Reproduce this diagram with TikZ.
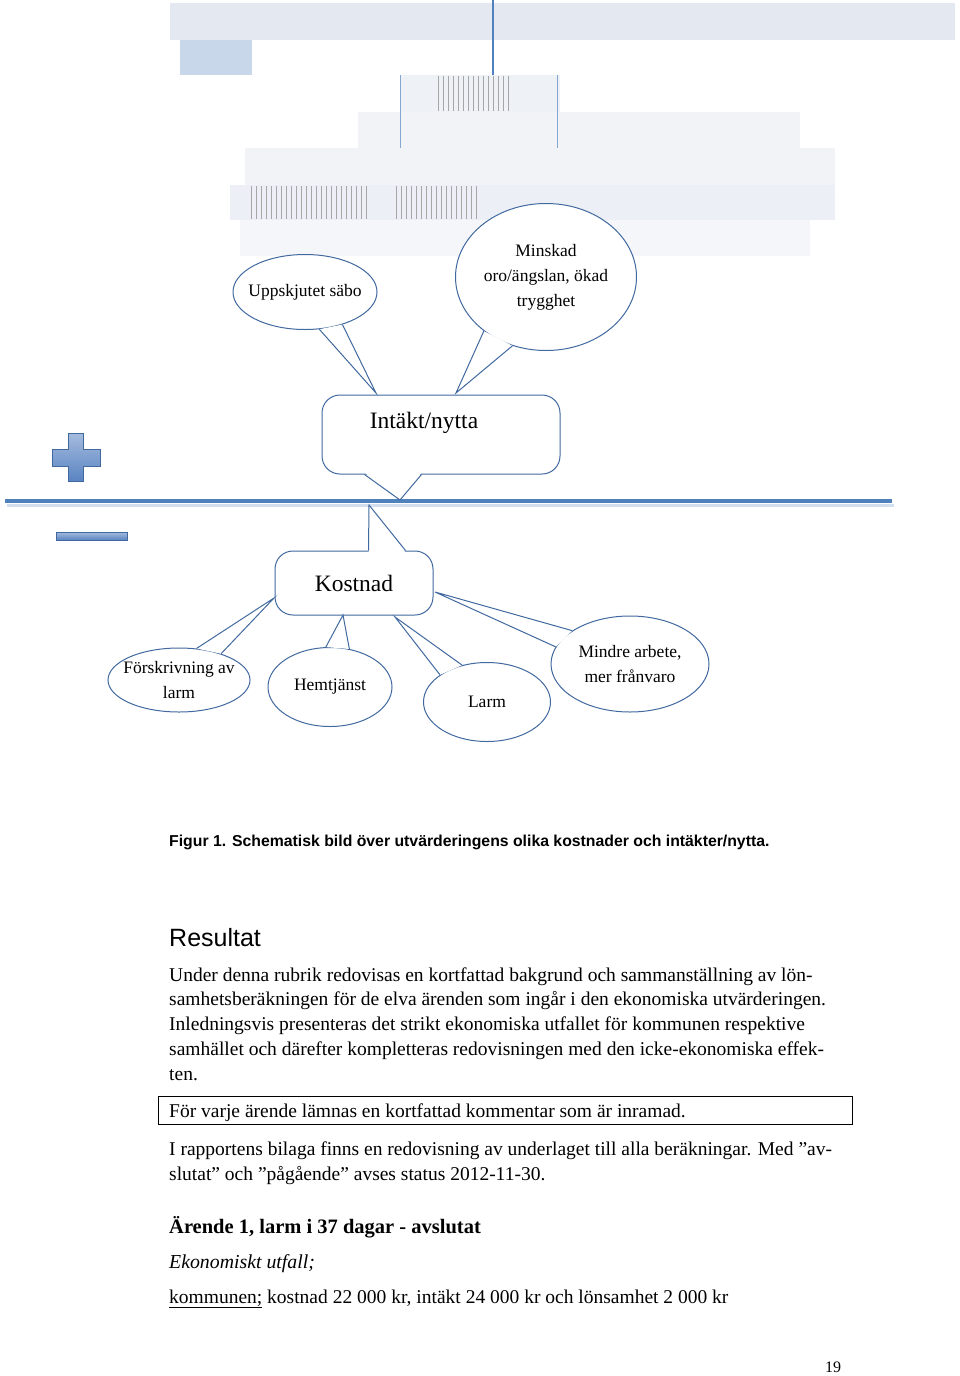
\documentclass[tikz,border=0pt]{standalone}
\usepackage{fontspec}
\setmainfont{Liberation Serif}
\setsansfont{Liberation Sans}
\usetikzlibrary{positioning,calc,shapes.geometric}
\definecolor{calloutblue}{RGB}{65,105,160}
\definecolor{lineblue}{RGB}{79,129,189}
\definecolor{plusblue}{RGB}{90,132,194}
\definecolor{ghostgray}{RGB}{228,233,241}
\definecolor{ghostblue}{RGB}{201,215,234}

\begin{document}
\begin{tikzpicture}[x=1pt,y=-1pt,
    bubble/.style={ellipse,draw=calloutblue,fill=white,line width=1pt,inner ysep=0pt,inner xsep=-8pt,align=center,font=\fontsize{17.5}{25}\selectfont},
    callbox/.style={rectangle,rounded corners=18pt,draw=calloutblue,fill=white,line width=1pt,inner sep=0pt,font=\fontsize{23.5}{26}\selectfont},
    tailline/.style={draw=calloutblue,line width=1pt},
    ghost/.style={fill=ghostgray,draw=none},
    signshape/.style={top color=plusblue!55!white,bottom color=plusblue,draw=calloutblue,line width=.8pt},
    bodytext/.style={anchor=base west,inner sep=0pt,align=left,font=\fontsize{19.5}{24.75}\selectfont}]
    \useasboundingbox[fill=white] (0,0) rectangle (960,1376);

    % faint bands at the top
    \fill[ghost] (170,3) rectangle (955,40);
    \fill[ghostblue] (180,40) rectangle (252,75);
    \fill[ghost,opacity=.6] (400,75) rectangle (560,112);
    \fill[ghost,opacity=.5] (358,112) rectangle (800,148);
    \fill[ghost,opacity=.5] (245,148) rectangle (835,185);
    \fill[ghost,opacity=.7] (230,185) rectangle (835,220);
    \fill[ghost,opacity=.4] (240,220) rectangle (810,256);
    \draw[lineblue,line width=1.5pt] (493,0) -- (493,75);
    \draw[lineblue!70,line width=1pt] (400,75) -- (400,148) (557,75) -- (557,148);
    \foreach \x in {438,443,...,508} \draw[gray!70,line width=.8pt] (\x,76) -- (\x,111);
    \foreach \x in {251,256,...,366} \draw[gray!70,line width=.8pt] (\x,186) -- (\x,219);
    \foreach \x in {396,401,...,476} \draw[gray!70,line width=.8pt] (\x,186) -- (\x,219);

    % plus, minus and the dividing line
    \draw[lineblue!25,line width=3pt] (7,505) -- (894,505);
    \draw[lineblue,line width=4pt] (5,501) -- (892,501);
    \path[signshape]
        (68,433) -- (83,433) -- (83,449) -- (100,449) -- (100,466) -- (83,466)
        -- (83,481) -- (68,481) -- (68,466) -- (52,466) -- (52,449) -- (68,449) -- cycle;
    \path[signshape] (56,532) rectangle (127,540);

    % upper callouts
    \node[bubble,minimum width=144,minimum height=75] (sabo) at (305,292) {Uppskjutet säbo};
    \node[bubble,minimum width=181,minimum height=147] (trygg) at (546,277) {Minskad\\oro/ängslan, ökad\\trygghet};
    \node[callbox,minimum width=238,minimum height=79] (intakt) at (441,434.5) {};
    \node[inner sep=0pt,font=\fontsize{23.5}{26}\selectfont] (intakt-text) at (424,423) {Intäkt/nytta};

    \coordinate (sabo-tip) at (376,393);
    \coordinate (trygg-tip) at (456,393);
    \coordinate (intakt-tip) at (400,500);
    \fill[white] (sabo.291) -- (sabo-tip) -- (sabo.319) -- cycle;
    \draw[tailline] (sabo.291) -- (sabo-tip) -- (sabo.319);
    \fill[white] (trygg.221) -- (trygg-tip) -- (trygg.244) -- cycle;
    \draw[tailline] (trygg.221) -- (trygg-tip) -- (trygg.244);
    \fill[white] ($(intakt.south west)+(43,-2)$) -- (intakt-tip) -- ($(intakt.south west)+(100,-2)$) -- cycle;
    \draw[tailline] ($(intakt.south west)+(43,0)$) -- (intakt-tip) -- ($(intakt.south west)+(100,0)$);

    % lower callouts
    \node[callbox,minimum width=158,minimum height=64] (kostnad) at (354,583) {Kostnad};
    \node[bubble,minimum width=142,minimum height=64] (forskr) at (179,680) {Förskrivning av\\larm};
    \node[bubble,minimum width=124,minimum height=79] (hemtj) at (330,687) {Hemtjänst};
    \node[bubble,minimum width=127,minimum height=79] (larm) at (487,702) {Larm};
    \node[bubble,minimum width=158,minimum height=96] (franvaro) at (630,664) {Mindre arbete,\\mer frånvaro};

    \coordinate (kostnad-tip) at (369,505);
    \coordinate (forskr-tip) at (274,598);
    \coordinate (hemtj-tip) at (343,615);
    \coordinate (larm-tip) at (395,617);
    \coordinate (franvaro-tip) at (435,592);
    \fill[white] ($(kostnad.north west)+(94,2)$) -- (kostnad-tip) -- ($(kostnad.north west)+(131,2)$) -- cycle;
    \draw[tailline] ($(kostnad.north west)+(94,0)$) -- (kostnad-tip) -- ($(kostnad.north west)+(131,0)$);
    \fill[white] (forskr.61) -- (forskr-tip) -- (forskr.32) -- cycle;
    \draw[tailline] (forskr.61) -- (forskr-tip) -- (forskr.32);
    \fill[white] (hemtj.96) -- (hemtj-tip) -- (hemtj.63) -- cycle;
    \draw[tailline] (hemtj.96) -- (hemtj-tip) -- (hemtj.63);
    \fill[white] (larm.150) -- (larm-tip) -- (larm.124) -- cycle;
    \draw[tailline] (larm.150) -- (larm-tip) -- (larm.124);
    \fill[white] (franvaro.167) -- (franvaro-tip) -- (franvaro.150) -- cycle;
    \draw[tailline] (franvaro.167) -- (franvaro-tip) -- (franvaro.150);

    % caption and page text
    \node[anchor=base west,inner sep=0pt,font=\sffamily\bfseries\fontsize{15.8}{18}\selectfont] (caption) at (169,846)
        {Figur 1. Schematisk bild över utvärderingens olika kostnader och intäkter/nytta.};
    \node[anchor=base west,inner sep=0pt,font=\sffamily\fontsize{25}{30}\selectfont] (resultat) at (169,946) {Resultat};
    \node[bodytext] (para1) at (169,1080)
        {Under denna rubrik redovisas en kortfattad bakgrund och sammanställning av lön-\\
         samhetsberäkningen för de elva ärenden som ingår i den ekonomiska utvärderingen.\\
         Inledningsvis presenteras det strikt ekonomiska utfallet för kommunen respektive\\
         samhället och därefter kompletteras redovisningen med den icke-ekonomiska effek-\\
         ten.};
    \draw[black,line width=.8pt] (158,1096) rectangle (852,1124);
    \node[bodytext] (inramad) at (169,1117) {För varje ärende lämnas en kortfattad kommentar som är inramad.};
    \node[bodytext] (para2) at (169,1180)
        {I rapportens bilaga finns en redovisning av underlaget till alla beräkningar. Med ”av-\\
         slutat” och ”pågående” avses status 2012-11-30.};
    \node[bodytext,font=\bfseries\fontsize{20.5}{24}\selectfont] (arende) at (169,1233) {Ärende 1, larm i 37 dagar - avslutat};
    \node[bodytext,font=\itshape\fontsize{19.8}{24}\selectfont] (utfall) at (169,1268) {Ekonomiskt utfall;};
    \node[bodytext] (kommunen) at (169,1303) {\underline{kommunen;} kostnad 22 000 kr, intäkt 24 000 kr och lönsamhet 2 000 kr};
    \node[anchor=base,inner sep=0pt,font=\fontsize{16}{18}\selectfont] (sida) at (833,1372) {19};
\end{tikzpicture}
\end{document}
